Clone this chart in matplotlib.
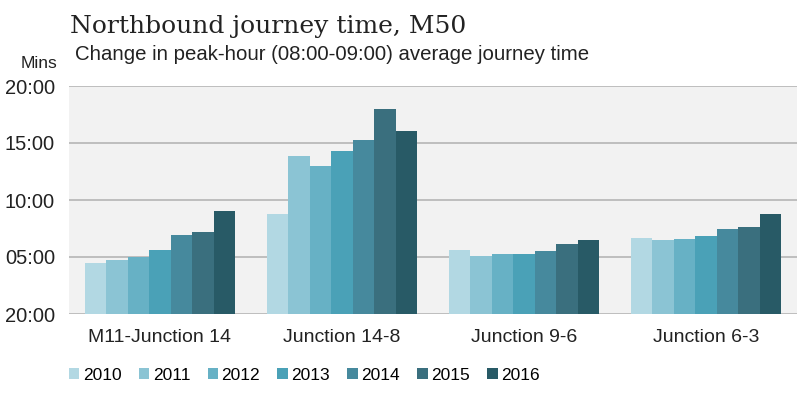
import matplotlib
matplotlib.use("Agg")
import matplotlib.pyplot as plt
import numpy as np

categories = ["M11-Junction 14", "Junction 14-8", "Junction 9-6", "Junction 6-3"]
years = ["2010", "2011", "2012", "2013", "2014", "2015", "2016"]
# journey time in minutes, per year, across the four sections
values = {
    "2010": [4.5, 8.77, 5.59, 6.71],
    "2011": [4.74, 13.82, 5.08, 6.47],
    "2012": [5.03, 12.94, 5.23, 6.58],
    "2013": [5.6, 14.26, 5.23, 6.88],
    "2014": [6.93, 15.23, 5.5, 7.47],
    "2015": [7.17, 18.0, 6.18, 7.62],
    "2016": [9.04, 16.09, 6.53, 8.74],
}
yticks = [0, 5, 10, 15, 20]
ytick_labels = ["20:00", "05:00", "10:00", "15:00", "20:00"]
colors = ["#b2d8e3", "#8bc4d4", "#67b1c5", "#4aa1b7", "#46899d", "#3a6f7e", "#285a66"]

plt.rcParams['font.family'] = ['Liberation Sans', 'DejaVu Sans']

fig = plt.figure(figsize=(8, 3.97), dpi=100)
ax = fig.add_axes([69/800, (397-314)/397, (797-69)/800, (314-86)/397])
ax.set_facecolor("#f2f2f2")

x = np.arange(len(categories))
bw = 0.8235 / len(years)
for i, yr in enumerate(years):
    ax.bar(x + (i - 3) * bw, values[yr], width=bw, color=colors[i], label=yr,
           zorder=3, linewidth=0)

ax.set_xlim(-0.5, 3.5)
ax.set_ylim(0, 20)
ax.set_yticks(yticks)
ax.set_yticklabels(ytick_labels, fontsize=14.5, color="#222222")
ax.set_xticks(x)
ax.set_xticklabels(categories, fontsize=14, color="#222222")
ax.tick_params(axis='both', length=0)
ax.tick_params(axis='y', pad=10)
ax.tick_params(axis='x', pad=11)
for s in ax.spines.values():
    s.set_visible(False)
for t in yticks:
    ax.axhline(t, color="#b5b5b5", linewidth=1.2, zorder=2)

fig.text(70/800, 1 - 33/397, "Northbound journey time, M50", fontsize=18,
         family="DejaVu Serif", va="baseline", ha="left", color="#222222")
fig.text(75/800, 1 - 55/397, "Change in peak-hour (08:00-09:00) average journey time",
         fontsize=14.7, va="center", ha="left", color="#222222")
fig.text(57/800, 1 - 63/397, "Mins", fontsize=12.5, va="center", ha="right", color="#222222")

fig.legend(loc="center left", bbox_to_anchor=(62/800, 1 - 375/397), ncol=7,
           frameon=False, fontsize=12.5, handlelength=0.6, handleheight=0.6,
           handletextpad=0.2, columnspacing=1.0, borderaxespad=0)

fig.savefig("out.png", dpi=100)
